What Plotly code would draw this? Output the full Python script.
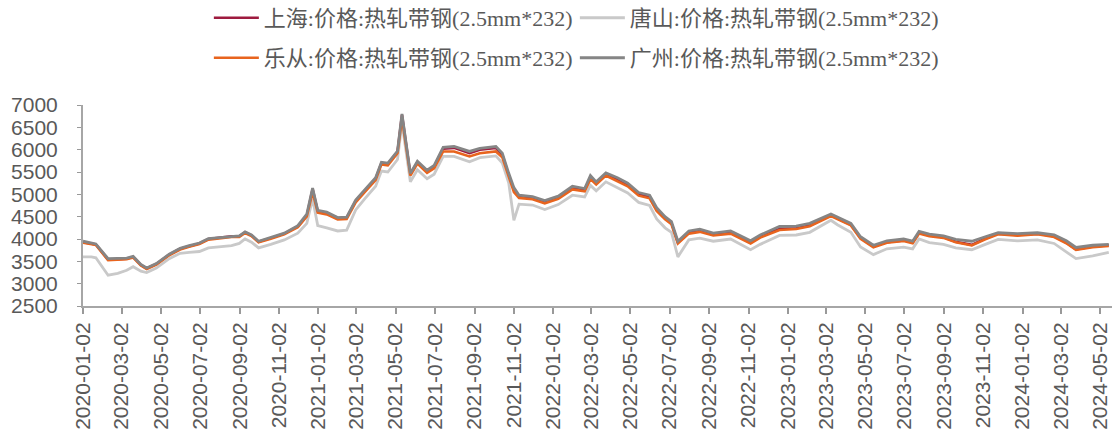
import plotly.graph_objects as go

dates = [
    "2020-01-02", "2020-01-15", "2020-01-22", "2020-02-10", "2020-02-25", "2020-03-10", "2020-03-20",
    "2020-04-01", "2020-04-10", "2020-04-25", "2020-05-15", "2020-06-01", "2020-06-15", "2020-07-01",
    "2020-07-15", "2020-08-01", "2020-08-20", "2020-09-01", "2020-09-10", "2020-09-20", "2020-10-01",
    "2020-10-20", "2020-11-10", "2020-12-01", "2020-12-15", "2020-12-24", "2021-01-01", "2021-01-15",
    "2021-02-01", "2021-02-15", "2021-03-01", "2021-03-15", "2021-04-01", "2021-04-10", "2021-04-20",
    "2021-05-05", "2021-05-12", "2021-05-25", "2021-06-05", "2021-06-20", "2021-07-01", "2021-07-15",
    "2021-08-01", "2021-08-25", "2021-09-10", "2021-10-05", "2021-10-15", "2021-10-25", "2021-11-02",
    "2021-11-10", "2021-12-01", "2021-12-20", "2022-01-10", "2022-02-01", "2022-02-20", "2022-03-01",
    "2022-03-10", "2022-03-25", "2022-04-12", "2022-04-28", "2022-05-15", "2022-06-01", "2022-06-12",
    "2022-06-25", "2022-07-05", "2022-07-15", "2022-08-01", "2022-08-18", "2022-09-08", "2022-10-05",
    "2022-11-05", "2022-11-20", "2022-12-20", "2023-01-15", "2023-02-05", "2023-03-10", "2023-03-20",
    "2023-04-10", "2023-04-25", "2023-05-15", "2023-06-05", "2023-07-01", "2023-07-15", "2023-07-25",
    "2023-08-10", "2023-09-01", "2023-09-20", "2023-10-15", "2023-11-05", "2023-11-25", "2023-12-25",
    "2024-01-25", "2024-02-20", "2024-03-10", "2024-03-25", "2024-04-20", "2024-05-15",
]

shanghai = [
    3930, 3900, 3880, 3540, 3550, 3560, 3600, 3420, 3340, 3440, 3650, 3780, 3840, 3900,
    4000, 4030, 4060, 4060, 4150, 4080, 3940, 4020, 4120, 4280, 4520, 5120, 4620, 4580,
    4470, 4480, 4850, 5080, 5350, 5700, 5680, 5950, 6780, 5450, 5720, 5520, 5620, 6020,
    6040, 5920, 6000, 6040, 5880, 5430, 5100, 4950, 4920, 4830, 4930, 5150, 5100, 5380,
    5250, 5450, 5330, 5210, 5000, 4940, 4660, 4470, 4360, 3920, 4150, 4190, 4100, 4150,
    3920, 4050, 4230, 4240, 4300, 4530, 4460, 4320, 4020, 3830, 3930, 3970, 3920, 4140,
    4080, 4040, 3940, 3870, 4010, 4120, 4090, 4120, 4060, 3920, 3770, 3830, 3860,
]

tangshan = [
    3600, 3600, 3580, 3190, 3230, 3300, 3380, 3280, 3250, 3350, 3560, 3680, 3700, 3720,
    3800, 3830, 3850, 3900, 4000, 3930, 3800, 3880, 3980, 4130, 4350, 4900, 4300, 4250,
    4180, 4200, 4650, 4900, 5180, 5520, 5500, 5780, 6600, 5280, 5550, 5350, 5450, 5850,
    5850, 5730, 5820, 5860, 5700, 5250, 4420, 4780, 4760, 4660, 4770, 4980, 4940, 5200,
    5080, 5280, 5150, 5030, 4820, 4750, 4450, 4250, 4150, 3600, 3980, 4020, 3950, 4000,
    3760, 3880, 4080, 4090, 4150, 4420, 4320, 4150, 3820, 3650, 3780, 3820, 3780, 4000,
    3920, 3880, 3800, 3760, 3880, 3990, 3960, 3980, 3900, 3720, 3560, 3620, 3700,
]

lecong = [
    3915, 3885, 3865, 3525, 3535, 3545, 3585, 3405, 3325, 3425, 3635, 3765, 3825, 3885,
    3985, 4015, 4045, 4045, 4135, 4065, 3925, 4005, 4105, 4265, 4505, 5050, 4590, 4550,
    4440, 4450, 4820, 5050, 5320, 5670, 5650, 5920, 6700, 5420, 5690, 5480, 5580, 5960,
    5960, 5850, 5920, 5960, 5830, 5400, 5050, 4920, 4890, 4800, 4900, 5110, 5070, 5340,
    5220, 5420, 5290, 5180, 4970, 4910, 4630, 4440, 4330, 3900, 4120, 4160, 4080, 4120,
    3900, 4030, 4200, 4225, 4285, 4515, 4445, 4305, 4005, 3815, 3915, 3955, 3905, 4125,
    4065, 4025, 3925, 3855, 3995, 4105, 4075, 4105, 4045, 3905, 3755, 3815, 3845,
]

guangzhou = [
    3950, 3920, 3890, 3560, 3560, 3570, 3610, 3430, 3350, 3450, 3660, 3790, 3850, 3910,
    4010, 4030, 4050, 4070, 4160, 4090, 3950, 4030, 4130, 4300, 4560, 5140, 4640, 4600,
    4480, 4490, 4870, 5100, 5370, 5720, 5700, 5970, 6800, 5470, 5740, 5540, 5650, 6050,
    6070, 5960, 6030, 6070, 5920, 5470, 5150, 4980, 4950, 4860, 4960, 5180, 5130, 5420,
    5280, 5480, 5370, 5250, 5040, 4980, 4700, 4500, 4390, 3950, 4180, 4220, 4130, 4180,
    3960, 4090, 4280, 4290, 4350, 4560, 4490, 4350, 4050, 3860, 3960, 4000, 3950, 4170,
    4110, 4070, 3990, 3950, 4050, 4140, 4120, 4140, 4090, 3960, 3810, 3860, 3880,
]

series_names = [
    "上海:价格:热轧带钢(2.5mm*232)",
    "唐山:价格:热轧带钢(2.5mm*232)",
    "乐从:价格:热轧带钢(2.5mm*232)",
    "广州:价格:热轧带钢(2.5mm*232)",
]

tick_dates = [
    "2020-01-02", "2020-03-02", "2020-05-02", "2020-07-02", "2020-09-02", "2020-11-02",
    "2021-01-02", "2021-03-02", "2021-05-02", "2021-07-02", "2021-09-02", "2021-11-02",
    "2022-01-02", "2022-03-02", "2022-05-02", "2022-07-02", "2022-09-02", "2022-11-02",
    "2023-01-02", "2023-03-02", "2023-05-02", "2023-07-02", "2023-09-02", "2023-11-02",
    "2024-01-02", "2024-03-02", "2024-05-02",
]

y_ticks = [2500, 3000, 3500, 4000, 4500, 5000, 5500, 6000, 6500, 7000]

colors = ["#9E1B3F", "#C9C9C9", "#E8641E", "#858585"]
widths = [2.6, 2.8, 2.6, 2.8]
legend_ids = ["legend", "legend", "legend2", "legend2"]
data = [shanghai, tangshan, lecong, guangzhou]

fig = go.Figure()
for name, vals, col, w, lg in zip(series_names, data, colors, widths, legend_ids):
    fig.add_trace(go.Scatter(
        x=dates, y=vals, name=name, mode="lines",
        line=dict(color=col, width=w), legend=lg,
    ))

legend_font = dict(family="Liberation Serif, Noto Sans CJK SC", size=22, color="#595959")
fig.update_layout(
    width=1114, height=429,
    margin=dict(l=83, r=2, t=105, b=123, autoexpand=False),
    paper_bgcolor="white", plot_bgcolor="white",
    showlegend=True,
    legend=dict(orientation="h", x=0.478, xanchor="center", y=1.433, yanchor="middle",
                font=legend_font, itemwidth=45, entrywidth=306, entrywidthmode="pixels",
                bgcolor="rgba(0,0,0,0)"),
    legend2=dict(orientation="h", x=0.478, xanchor="center", y=1.234, yanchor="middle",
                 font=legend_font, itemwidth=45, entrywidth=306, entrywidthmode="pixels",
                 bgcolor="rgba(0,0,0,0)"),
    xaxis=dict(
        type="date", range=["2020-01-02", "2024-05-20"],
        tickmode="array", tickvals=tick_dates, ticktext=tick_dates,
        tickangle=-90, ticks="outside", ticklen=6, tickcolor="#999999", tickwidth=2,
        showline=True, linecolor="#A6A6A6", linewidth=2,
        showgrid=False, zeroline=False,
        tickfont=dict(family="Liberation Sans", size=21, color="#595959"),
    ),
    yaxis=dict(
        range=[2500, 7000], tickmode="array", tickvals=y_ticks,
        ticks="outside", ticklen=4, tickcolor="#999999", tickwidth=1,
        showline=True, linecolor="#A6A6A6", linewidth=2,
        showgrid=False, zeroline=False, ticklabelstandoff=15,
        tickfont=dict(family="Liberation Sans", size=21, color="#595959"),
    ),
)

fig.write_html(
    "out.html",
    config={"displayModeBar": False},
    post_script="document.body.style.margin='0';document.body.style.overflow='hidden';",
)
